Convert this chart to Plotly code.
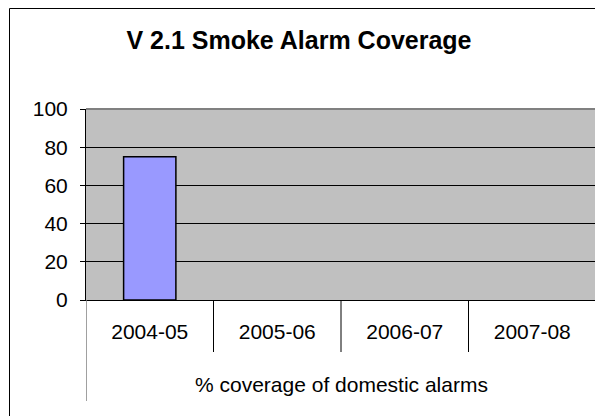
import plotly.graph_objects as go

# data
years = ["2004-05", "2005-06", "2006-07", "2007-08"]
coverage = [75, None, None, None]
y_ticks = [0, 20, 40, 60, 80, 100]
group_label = "% coverage of domestic alarms"

FONT = "Liberation Sans, Arial, sans-serif"

# the page body has an 8px margin, so the figure is shrunk by that much
OFF = 8
W, H = 603 - OFF, 416 - OFF

# plot area in screen pixels: x 86..596, y 109..300
def px(x):
    return (x - 86) / 510

def py(y):
    return (300 - y) / 191

fig = go.Figure()
fig.add_trace(go.Bar(
    x=years,
    y=coverage,
    width=0.41,
    marker=dict(color="#9999FF", line=dict(color="black", width=1.5)),
    hoverinfo="x+y"
))

shapes = [
    # outer chart box (right/bottom edges cropped off in the reference)
    dict(type="rect", xref="paper", yref="paper", x0=px(9.5), y0=py(8.5), x1=1.1, y1=-0.8,
         line=dict(color="black", width=1), layer="above"),
    # plot area border, top and right
    dict(type="line", xref="paper", yref="paper", x0=0, x1=1, y0=1, y1=1,
         line=dict(color="#808080", width=2), layer="above"),
    dict(type="line", xref="paper", yref="paper", x0=1, x1=1, y0=0, y1=1,
         line=dict(color="#808080", width=2), layer="above"),
    # outer lines of the category table
    dict(type="line", xref="x", yref="paper", x0=-0.5, x1=-0.5, y0=0, y1=py(401),
         line=dict(color="#808080", width=1.5)),
    dict(type="line", xref="x", yref="paper", x0=3.5, x1=3.5, y0=0, y1=py(401),
         line=dict(color="black", width=1.5)),
]
for b in [0.5, 1.5, 2.5]:
    shapes.append(dict(type="line", xref="x", yref="paper", x0=b, x1=b, y0=0, y1=py(352),
                       line=dict(color="black", width=1)))

fig.update_layout(
    width=W,
    height=H,
    margin=dict(l=86 - OFF, r=7, t=109 - OFF, b=116),
    paper_bgcolor="white",
    plot_bgcolor="#C0C0C0",
    font=dict(family=FONT, size=21, color="black"),
    title=dict(
        text="V 2.1 Smoke Alarm Coverage",
        font=dict(family=FONT, size=25, color="black", weight="bold"),
        x=(299 - OFF) / W, xanchor="center",
        y=1 - (40 - OFF) / H, yanchor="middle"
    ),
    showlegend=False,
    xaxis=dict(
        type="category",
        range=[-0.5, 3.5],
        showgrid=False,
        showline=True,
        linecolor="black",
        linewidth=1,
        ticks="outside",
        ticklen=13,
        tickcolor="rgba(0,0,0,0)",
        tickfont=dict(family=FONT, size=21),
        fixedrange=True
    ),
    yaxis=dict(
        range=[0, 100],
        tickvals=y_ticks,
        showgrid=True,
        gridcolor="black",
        gridwidth=1,
        zeroline=False,
        showline=True,
        linecolor="black",
        linewidth=1,
        ticks="outside",
        ticklen=5,
        tickcolor="black",
        ticklabelstandoff=8,
        tickfont=dict(family=FONT, size=21),
        fixedrange=True
    ),
    shapes=shapes,
    annotations=[dict(
        text=group_label, xref="paper", yref="paper",
        x=0.5, y=py(384), xanchor="center", yanchor="middle",
        showarrow=False, font=dict(family=FONT, size=21)
    )]
)

fig.write_html("out.html")
